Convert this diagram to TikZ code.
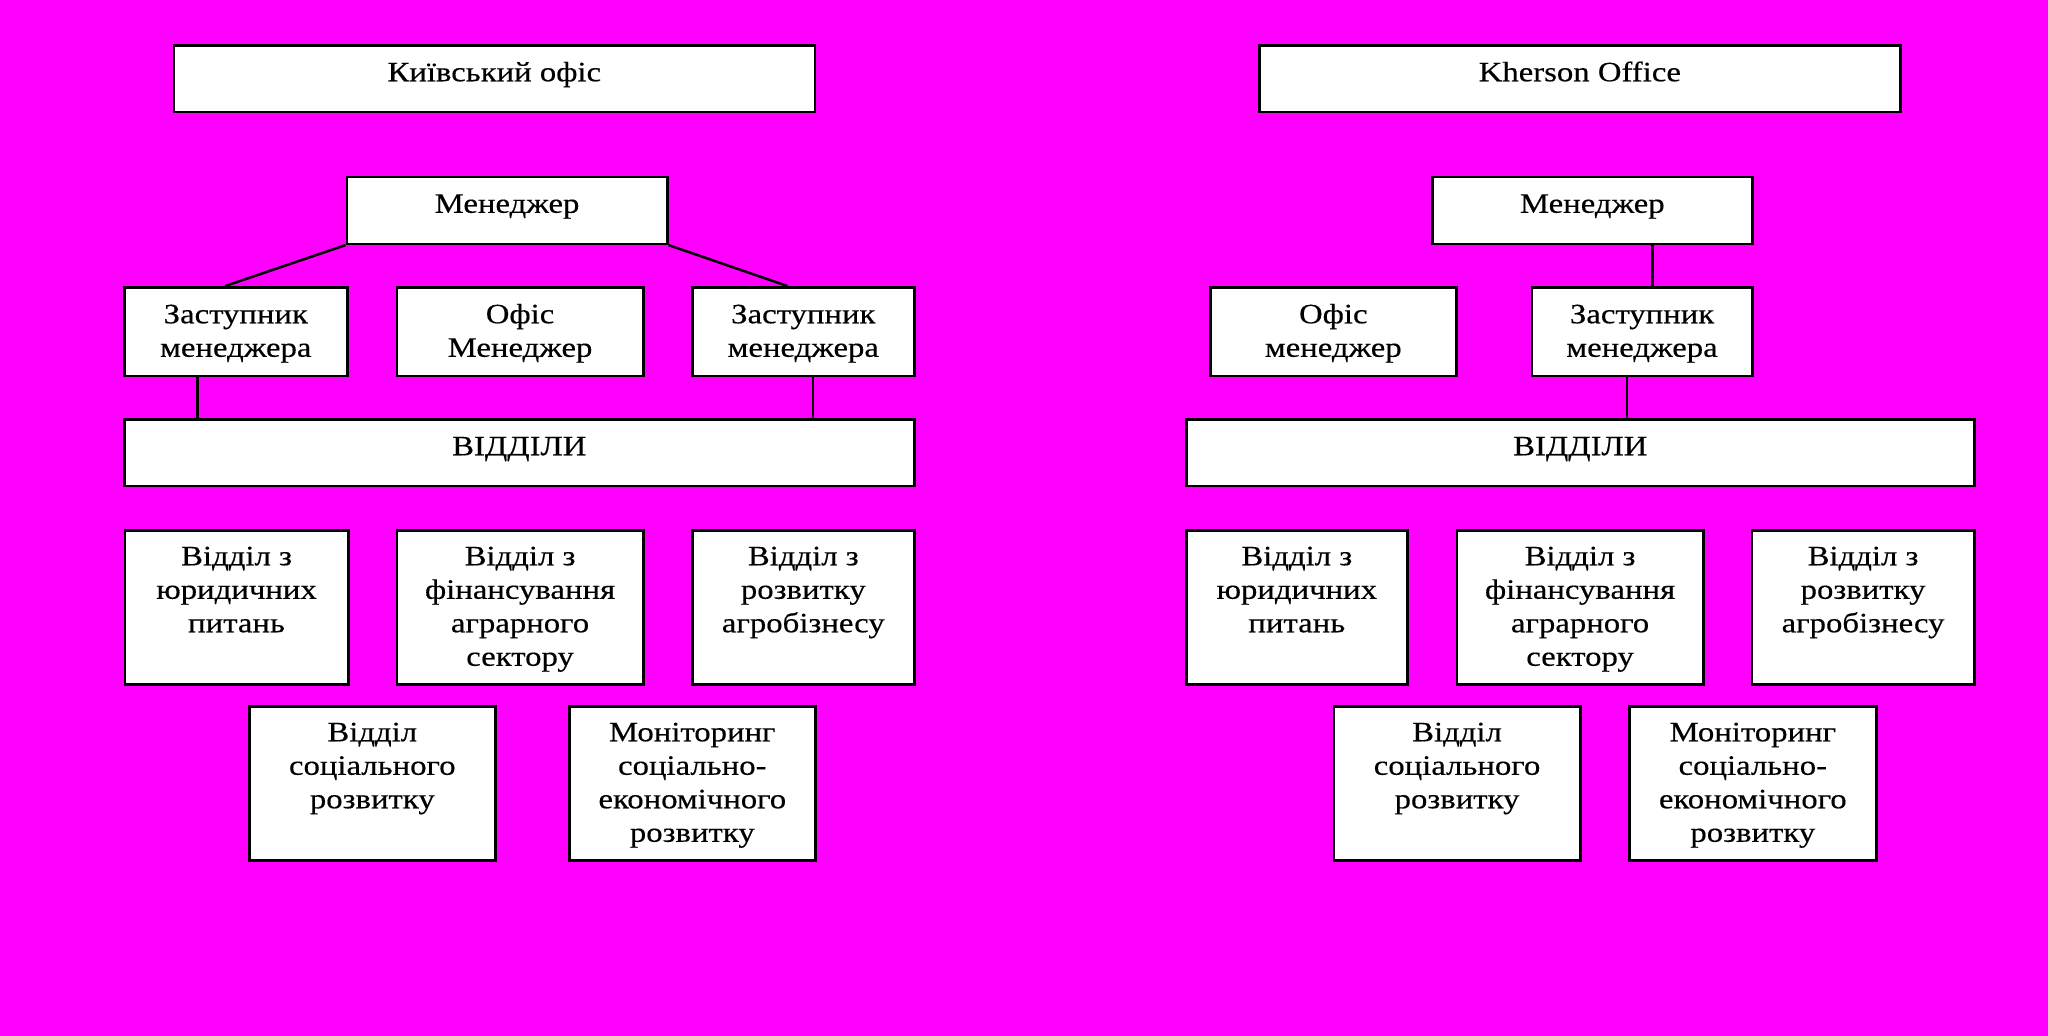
\documentclass[tikz,border=0pt]{standalone}
\usepackage{fontspec}
\setmainfont{Liberation Serif}[FakeStretch=1.17,FakeBold=0.4]
\definecolor{bg}{RGB}{255,0,255}
\newcommand{\bxt}[4][12.5]{\parbox[c][#3pt][t]{#2pt}{\centering\vspace*{#1pt}\strut#4\par}}
\begin{document}
\begin{tikzpicture}[x=1pt,y=-1pt,
  bx/.style={draw=black, fill=white, line width=2.6pt, inner sep=0pt, anchor=north west,
    font=\fontsize{28pt}{33.5pt}\selectfont},
  ln/.style={draw=black, line width=2.5pt}]
\fill[bg] (0,0) rectangle (2048,1036);
\useasboundingbox (0,0) rectangle (2048,1036);
% ---------- left: Kyiv ----------
\node[bx] (kyiv) at (172.5,44) {\bxt{641}{66.5}{Київський офіс}};
\node[bx] (m1) at (345.5,175.5) {\bxt{320.5}{67}{Менеджер}};
\node[bx] (z1a) at (123,286) {\bxt{223}{88.5}{Заступник\\менеджера}};
\node[bx] (o1) at (395.5,286) {\bxt{246.5}{88.5}{Офіс\\Менеджер}};
\node[bx] (z1b) at (691,286) {\bxt{222}{88.5}{Заступник\\менеджера}};
\node[bx] (v1) at (123,418) {\bxt{790}{66.5}{ВІДДІЛИ}};
\node[bx] (d1a) at (123.5,529) {\bxt[11.5]{223.5}{154}{Відділ з\\юридичних\\питань}};
\node[bx] (d1b) at (395.5,529) {\bxt[11.5]{246.5}{154}{Відділ з\\фінансування\\аграрного\\сектору}};
\node[bx] (d1c) at (691,529) {\bxt[11.5]{222}{154}{Відділ з\\розвитку\\агробізнесу}};
\node[bx] (s1) at (248,705) {\bxt[11.5]{246}{154}{Відділ\\соціального\\розвитку}};
\node[bx] (mon1) at (568,705) {\bxt[11.5]{246}{154}{Моніторинг\\соціально-\\економічного\\розвитку}};
\draw[ln] (m1.south west) -- ([xshift=-10.5pt]z1a.north);
\draw[ln] (m1.south east) -- ([xshift=-16pt]z1b.north);
\coordinate (c1) at ([xshift=74.5pt]z1a.south west);
\coordinate (c2) at ([xshift=122pt]z1b.south west);
\draw[ln] (c1) -- (c1 |- v1.north);
\draw[ln] (c2) -- (c2 |- v1.north);
% ---------- right: Kherson ----------
\node[bx] (kh) at (1258,44) {\bxt{641}{66.5}{Kherson Office}};
\node[bx] (m2) at (1431,175.5) {\bxt{320}{67}{Менеджер}};
\node[bx] (o2) at (1209,286) {\bxt{246}{88.5}{Офіс\\менеджер}};
\node[bx] (z2) at (1530.5,286) {\bxt{220.5}{88.5}{Заступник\\менеджера}};
\node[bx] (v2) at (1185,418) {\bxt{788}{66.5}{ВІДДІЛИ}};
\node[bx] (d2a) at (1185,529) {\bxt[11.5]{221}{154}{Відділ з\\юридичних\\питань}};
\node[bx] (d2b) at (1455.5,529) {\bxt[11.5]{246.5}{154}{Відділ з\\фінансування\\аграрного\\сектору}};
\node[bx] (d2c) at (1750.5,529) {\bxt[11.5]{222.5}{154}{Відділ з\\розвитку\\агробізнесу}};
\node[bx] (s2) at (1332.5,705) {\bxt[11.5]{246.5}{154}{Відділ\\соціального\\розвитку}};
\node[bx] (mon2) at (1628,705) {\bxt[11.5]{247}{154}{Моніторинг\\соціально-\\економічного\\розвитку}};
\coordinate (c3) at ([xshift=221.3pt]m2.south west);
\coordinate (c4) at ([xshift=96.4pt]z2.south west);
\draw[ln] (c3) -- (c3 |- z2.north);
\draw[ln] (c4) -- (c4 |- v2.north);
\end{tikzpicture}
\end{document}
